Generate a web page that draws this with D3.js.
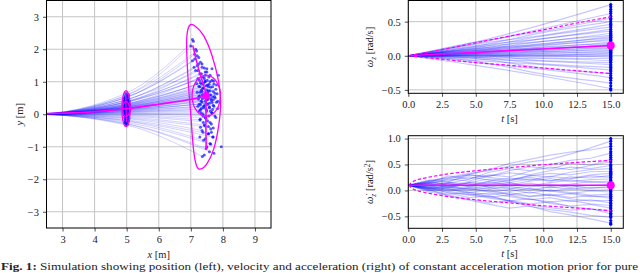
<!DOCTYPE html>
<html>
<head>
<meta charset="utf-8">
<script src="https://cdn.jsdelivr.net/npm/d3@7"></script>
<style>
body { margin: 0; background: #fff; }
text { font-family: "Liberation Serif", "DejaVu Serif", serif; fill: #222; }
</style>
</head>
<body>
<div id="chart"></div>
<script>
// ---- data ----
var xTicksL = [3, 4, 5, 6, 7, 8, 9];
var yTicksL = [-3, -2, -1, 0, 1, 2, 3];
var tTicks = [0, 2.5, 5, 7.5, 10, 12.5, 15];
var omegaTicks = [-0.5, 0, 0.5];
var alphaTicks = [-0.5, 0, 0.5, 1.0];

// position trajectories: [x at t1, y at t1, x end, y end]
var posTraj = [
  [4.97, 0.64, 7.08, 2.25], [5.02, 0.60, 7.00, 2.10], [4.95, 0.56, 7.18, 1.95], [5.05, 0.55, 7.12, 1.85],
  [4.99, 0.52, 7.25, 1.75], [4.92, 0.49, 7.05, 1.65], [5.06, 0.47, 7.35, 1.55], [5.01, 0.45, 7.20, 1.50],
  [4.94, 0.43, 7.42, 1.42], [5.08, 0.41, 7.15, 1.35], [4.98, 0.39, 7.50, 1.30], [5.03, 0.38, 7.28, 1.25],
  [4.91, 0.36, 7.60, 1.20], [4.96, 0.35, 7.38, 1.15], [5.07, 0.33, 7.22, 1.10], [5.00, 0.32, 7.66, 1.05],
  [4.93, 0.31, 7.45, 1.00], [5.04, 0.30, 7.30, 0.97], [4.97, 0.29, 7.72, 0.93], [5.09, 0.28, 7.52, 0.90],
  [4.95, 0.27, 7.25, 0.86], [5.02, 0.26, 7.62, 0.83], [4.90, 0.25, 7.40, 0.80], [5.05, 0.24, 7.78, 0.77],
  [4.99, 0.24, 7.33, 0.74], [4.94, 0.23, 7.55, 0.72], [5.06, 0.22, 7.70, 0.70], [5.01, 0.22, 7.20, 0.68],
  [4.96, 0.21, 7.47, 0.65], [5.03, 0.20, 7.82, 0.63], [4.92, 0.20, 7.36, 0.60], [5.08, 0.19, 7.58, 0.58],
  [4.98, 0.19, 7.28, 0.56], [5.00, 0.18, 7.68, 0.54], [4.95, 0.17, 7.44, 0.52], [5.04, 0.17, 7.76, 0.50],
  [4.97, 0.16, 7.24, 0.47], [5.07, 0.15, 7.52, 0.45], [4.93, 0.14, 7.64, 0.42], [5.02, 0.14, 7.32, 0.40],
  [4.99, 0.13, 7.80, 0.37], [4.94, 0.12, 7.48, 0.34], [5.05, 0.11, 7.26, 0.31], [5.01, 0.10, 7.70, 0.28],
  [4.96, 0.09, 7.40, 0.25], [5.08, 0.08, 7.58, 0.22], [4.91, 0.07, 7.84, 0.18], [5.03, 0.06, 7.30, 0.14],
  [4.98, 0.05, 7.50, 0.10], [4.95, 0.03, 7.66, 0.05], [5.06, 0.02, 7.38, 0.00], [5.00, 0.00, 7.75, -0.05],
  [4.93, -0.02, 7.45, -0.10], [5.04, -0.04, 7.28, -0.17], [4.97, -0.06, 7.60, -0.25], [5.02, -0.09, 7.42, -0.33],
  [4.94, -0.11, 7.70, -0.42], [5.07, -0.14, 7.35, -0.50], [4.99, -0.17, 7.55, -0.60], [4.95, -0.19, 7.68, -0.70],
  [5.05, -0.22, 7.40, -0.80], [5.00, -0.25, 7.62, -0.92], [4.96, -0.28, 7.48, -1.05], [5.03, -0.31, 7.72, -1.20],
  [4.98, -0.33, 7.36, -1.30]
];
var extraMid = [[4.95, 0.35], [5.05, 0.10], [4.92, 0.00], [5.08, 0.30], [4.98, -0.15], [5.02, 0.45], [4.96, 0.22],
  [5.04, -0.05], [4.90, 0.15], [5.10, 0.20], [5.00, 0.55], [4.94, -0.25], [5.06, 0.60], [5.01, 0.28], [4.97, 0.08],
  [4.93, 0.42], [5.07, 0.38], [4.99, -0.08], [5.03, 0.02], [4.95, 0.50], [5.05, -0.18], [4.91, 0.26], [5.09, 0.12]];
var extraEnd = [
  [7.40, 0.95], [7.55, 0.85], [7.35, 0.70], [7.62, 0.60], [7.45, 0.40], [7.30, 0.30], [7.58, 0.20], [7.70, 0.45], [7.25, 0.55], [7.50, 0.75],
  [7.42, 1.10], [7.60, 1.00], [7.33, 1.25], [7.48, 0.15], [7.65, 0.05], [7.38, -0.05], [7.52, -0.20], [7.44, -0.35], [7.62, -0.45], [7.30, -0.15],
  [7.75, 0.65], [7.28, 0.85], [7.68, 0.85], [7.46, 0.62], [7.54, 0.50], [7.36, 0.48], [7.58, 0.34], [7.40, 0.20], [7.72, 0.25], [7.26, 0.10],
  [7.50, 1.40], [7.30, 1.60], [7.20, 1.80], [7.15, 2.00], [7.05, 2.30], [7.35, 1.45], [7.22, 1.35], [7.45, 1.20], [7.56, 1.15], [7.12, 1.70],
  [7.55, -0.60], [7.45, -0.75], [7.60, -0.90], [7.38, -0.55], [7.70, -0.70], [7.50, -1.00], [7.42, -1.25], [7.58, -1.15], [7.95, -1.00], [7.30, -0.40],
  [7.80, 0.90], [7.84, 0.40], [7.78, -0.10], [7.18, 0.95], [7.22, 0.25], [7.86, 1.20], [7.66, 1.40], [7.10, 1.45], [7.28, -0.70], [7.64, -0.30],
  [7.48, 0.88], [7.52, 0.30], [7.40, 0.58], [7.60, 0.72], [7.34, 0.92], [7.56, -0.05], [7.44, 1.02], [7.68, 0.15], [7.32, 0.05], [7.62, 0.48],
  [7.37, 0.80], [7.53, 0.66], [7.43, 0.28], [7.66, 0.36], [7.29, 0.68], [7.57, 0.92], [7.47, -0.12], [7.35, 0.38], [7.74, 0.55], [7.51, 1.05],
  [7.39, -0.25], [7.61, 0.10], [7.27, 1.05], [7.49, 0.46], [7.71, 1.02], [7.33, 0.18], [7.55, -0.38], [7.45, 1.30], [7.24, 1.55], [7.64, -0.55]
];
var meanPos = [[0, 0], [2.5, 0.02], [3.5, 0.05], [4, 0.08], [4.98, 0.17], [6, 0.31], [7, 0.46], [7.48, 0.57]];
var midEllipseOuter = [4.98, 0.17, 0.13, 0.55];   // cx, cy, rx, ry
var midEllipseInner = [4.98, 0.16, 0.11, 0.23];
var midAxis = [[4.97, 0.62], [4.98, 0.17], [4.99, -0.22]];
var endEllipse = [7.48, 0.57, 0.44, 0.63];
var endContour = [[6.98, 2.75], [7.14, 2.71], [7.40, 2.42], [7.66, 1.81], [7.87, 0.99], [7.93, 0.38], [7.87, -0.34],
  [7.72, -1.05], [7.51, -1.51], [7.29, -1.69], [7.17, -1.56], [7.08, -1.05], [7.00, -0.03], [6.92, 0.99],
  [6.87, 2.02], [6.89, 2.52]];
var endAxis = [[7.06, 2.12], [7.24, 1.40], [7.40, 0.89], [7.47, 0.57], [7.47, -0.34], [7.48, -1.08]];

// angular velocity: values at t = 0, 5, 10, 15
var omegaTimes = [0, 5, 10, 15];
var omegaTraj = [
  [0.20, 0.46, 0.75], [0.18, 0.40, 0.62], [0.20, 0.36, 0.55], [0.14, 0.34, 0.50], [0.17, 0.30, 0.46],
  [0.12, 0.29, 0.42], [0.15, 0.25, 0.39], [0.10, 0.25, 0.36], [0.13, 0.21, 0.33], [0.08, 0.21, 0.30],
  [0.11, 0.17, 0.28], [0.07, 0.18, 0.26], [0.10, 0.15, 0.24], [0.06, 0.16, 0.22], [0.09, 0.12, 0.20],
  [0.04, 0.13, 0.18], [0.08, 0.10, 0.17], [0.05, 0.11, 0.15], [0.03, 0.10, 0.14], [0.07, 0.08, 0.13],
  [0.02, 0.08, 0.11], [0.05, 0.06, 0.10], [0.01, 0.06, 0.08], [0.04, 0.04, 0.07], [0.00, 0.04, 0.05],
  [0.03, 0.01, 0.04], [-0.01, 0.02, 0.02], [0.02, -0.01, 0.00], [-0.02, 0.00, -0.02], [0.01, -0.03, -0.04],
  [-0.03, -0.04, -0.07], [0.00, -0.07, -0.10], [-0.05, -0.08, -0.13], [-0.02, -0.12, -0.17], [-0.07, -0.13, -0.21],
  [-0.04, -0.18, -0.26], [-0.10, -0.20, -0.32], [-0.08, -0.27, -0.40], [-0.14, -0.30, -0.48]
];
var omegaEnd = [0.72, 0.68, 0.65, 0.58, 0.47, 0.35, 0.27, 0.19, 0.12, 0.06, -0.05, -0.15, -0.23, -0.29, -0.36, -0.44, -0.50,
  0.53, 0.44, 0.31, 0.23, 0.16, 0.09, 0.03, -0.01, -0.09, -0.19, -0.33];
var omegaBandT = [0, 2.5, 5, 7.5, 10, 12.5, 15];
var omegaMean = [0, 0.025, 0.05, 0.075, 0.10, 0.125, 0.15];
var omegaUpper = [0, 0.09, 0.19, 0.29, 0.38, 0.48, 0.57];
var omegaLower = [0, -0.05, -0.10, -0.14, -0.18, -0.22, -0.26];

// angular acceleration: start 0.1, then values at t = 1.5 ... 15
var alphaTimes = [0, 1.5, 3, 4.5, 6, 7.5, 9, 10.5, 12, 13.5, 15];
var alphaStart = 0.1;
var alphaTraj = [
  [0.18, 0.25, 0.33, 0.38, 0.47, 0.55, 0.60, 0.70, 0.82, 0.95],
  [0.15, 0.28, 0.22, 0.35, 0.42, 0.38, 0.50, 0.58, 0.62, 0.72],
  [0.20, 0.17, 0.30, 0.27, 0.38, 0.46, 0.41, 0.52, 0.49, 0.60],
  [0.05, 0.14, 0.22, 0.30, 0.26, 0.37, 0.45, 0.40, 0.48, 0.55],
  [0.16, 0.22, 0.18, 0.28, 0.34, 0.30, 0.38, 0.45, 0.42, 0.48],
  [0.12, 0.05, 0.15, 0.22, 0.18, 0.29, 0.26, 0.35, 0.40, 0.42],
  [0.19, 0.24, 0.30, 0.25, 0.21, 0.28, 0.33, 0.30, 0.36, 0.37],
  [0.07, 0.13, 0.09, 0.18, 0.24, 0.20, 0.27, 0.23, 0.30, 0.33],
  [0.14, 0.19, 0.26, 0.20, 0.15, 0.22, 0.18, 0.26, 0.24, 0.29],
  [0.03, 0.10, 0.16, 0.12, 0.20, 0.25, 0.19, 0.22, 0.28, 0.25],
  [0.17, 0.12, 0.08, 0.15, 0.11, 0.18, 0.23, 0.17, 0.21, 0.22],
  [0.09, 0.16, 0.12, 0.06, 0.13, 0.09, 0.15, 0.20, 0.16, 0.18],
  [0.13, 0.06, 0.11, 0.17, 0.10, 0.14, 0.08, 0.12, 0.17, 0.14],
  [0.04, 0.08, 0.02, 0.09, 0.15, 0.07, 0.12, 0.06, 0.10, 0.11],
  [0.16, 0.10, 0.14, 0.07, 0.03, 0.10, 0.05, 0.09, 0.04, 0.08],
  [0.08, 0.01, 0.06, 0.12, 0.05, 0.00, 0.07, 0.02, 0.06, 0.05],
  [0.11, 0.15, 0.07, 0.02, 0.08, 0.03, -0.02, 0.04, 0.00, 0.01],
  [0.02, 0.07, 0.00, 0.05, -0.02, 0.04, -0.01, -0.06, -0.01, -0.03],
  [0.14, 0.08, 0.03, -0.03, 0.02, -0.05, 0.01, -0.04, -0.09, -0.07],
  [0.06, -0.01, 0.04, -0.02, -0.08, -0.03, -0.10, -0.06, -0.12, -0.11],
  [0.01, 0.05, -0.03, -0.08, -0.04, -0.11, -0.07, -0.14, -0.10, -0.15],
  [0.10, 0.02, -0.04, 0.01, -0.07, -0.12, -0.09, -0.16, -0.20, -0.19],
  [0.04, -0.04, -0.09, -0.05, -0.12, -0.18, -0.14, -0.21, -0.18, -0.24],
  [-0.01, 0.03, -0.06, -0.13, -0.09, -0.17, -0.22, -0.19, -0.26, -0.29],
  [0.07, -0.02, -0.08, -0.15, -0.20, -0.16, -0.25, -0.30, -0.27, -0.34],
  [0.00, -0.07, -0.04, -0.12, -0.19, -0.26, -0.22, -0.31, -0.36, -0.40],
  [0.05, -0.05, -0.14, -0.10, -0.21, -0.28, -0.33, -0.38, -0.35, -0.45],
  [-0.03, -0.09, -0.17, -0.24, -0.20, -0.31, -0.37, -0.42, -0.48, -0.52],
  [0.02, -0.11, -0.19, -0.27, -0.34, -0.30, -0.41, -0.47, -0.55, -0.63],
  [0.12, 0.22, 0.31, 0.40, 0.52, 0.60, 0.68, 0.74, 0.78, 0.85]
];
var alphaEnd = [1.0, 0.9, 0.8, 0.68, 0.64, 0.5, 0.45, 0.35, 0.26, 0.19, 0.12, 0.06, -0.02, -0.08, -0.2, -0.3, -0.38, -0.44, -0.5, -0.58, -0.65,
  0.75, 0.57, 0.40, 0.31, 0.16, 0.02, -0.12, -0.25, -0.34, -0.47];
var alphaBandT = [0, 0.5, 1, 2.5, 5, 7.5, 10, 12.5, 15];
var alphaMean = [0.1, 0.1, 0.1, 0.1, 0.1, 0.1, 0.1, 0.1, 0.1];
var alphaUpper = [0.1, 0.19, 0.225, 0.30, 0.38, 0.44, 0.495, 0.54, 0.58];
var alphaLower = [0.1, 0.01, -0.025, -0.10, -0.18, -0.24, -0.295, -0.34, -0.39];

// ---- drawing ----
var svgWidth = 640;
var svgHeight = 273;
var blue = "#0000ff";
var magenta = "#ff00ff";

var svg = d3.select("#chart")
  .append("svg")
  .attr("width", svgWidth)
  .attr("height", svgHeight);

svg.append("rect").attr("width", svgWidth).attr("height", svgHeight).attr("fill", "#fff");

// axes frame with grid, returns clipped group for the marks
function makePanel(id, x, y, xTicks, yTicks, fmtX, fmtY) {
  var g = svg.append("g");
  var xr = x.range(), yr = y.range();

  g.append("clipPath").attr("id", id)
    .append("rect")
    .attr("x", xr[0]).attr("y", yr[1])
    .attr("width", xr[1] - xr[0]).attr("height", yr[0] - yr[1]);

  g.append("g").selectAll("line").data(xTicks).enter().append("line")
    .attr("x1", d => x(d)).attr("x2", d => x(d))
    .attr("y1", yr[0]).attr("y2", yr[1])
    .attr("stroke", "#c4c4c4").attr("stroke-width", 1);
  g.append("g").selectAll("line").data(yTicks).enter().append("line")
    .attr("x1", xr[0]).attr("x2", xr[1])
    .attr("y1", d => y(d)).attr("y2", d => y(d))
    .attr("stroke", "#c4c4c4").attr("stroke-width", 1);

  var marks = g.append("g").attr("clip-path", "url(#" + id + ")");

  var xAxis = g.append("g")
    .attr("transform", `translate(0, ${yr[0]})`)
    .call(d3.axisBottom(x).tickValues(xTicks).tickFormat(fmtX).tickSize(3.5).tickPadding(4).tickSizeOuter(0));
  var yAxis = g.append("g")
    .attr("transform", `translate(${xr[0]}, 0)`)
    .call(d3.axisLeft(y).tickValues(yTicks).tickFormat(fmtY).tickSize(3.5).tickPadding(4).tickSizeOuter(0));
  [xAxis, yAxis].forEach(function (a) {
    a.attr("font-family", null);
    a.select(".domain").remove();
    a.selectAll("text").style("font-size", "10.5px").attr("fill", "#222");
    a.selectAll("line").attr("stroke", "#222").attr("stroke-width", 0.8);
  });

  g.append("rect")
    .attr("x", xr[0]).attr("y", yr[1])
    .attr("width", xr[1] - xr[0]).attr("height", yr[0] - yr[1])
    .attr("fill", "none").attr("stroke", "#000").attr("stroke-width", 1);

  return { g: g, marks: marks };
}

function ellipsePts(e) {
  return d3.range(0, 361, 6).map(a => [e[0] + e[2] * Math.cos(a * Math.PI / 180), e[1] + e[3] * Math.sin(a * Math.PI / 180)]);
}

// ----- left: position -----
var xL = d3.scaleLinear().domain([2.5, 9.5]).range([46.5, 271]);
var yL = d3.scaleLinear().domain([-3.5, 3.5]).range([228, 0.5]);
var pL = makePanel("clipL", xL, yL, xTicksL, yTicksL, d3.format("d"), d3.format("d"));

var lineL = d3.line().x(d => xL(d[0])).y(d => yL(d[1]));
var curveL = d3.line().x(d => xL(d[0])).y(d => yL(d[1])).curve(d3.curveMonotoneX);

pL.marks.append("g").selectAll("path")
  .data(posTraj).enter().append("path")
  .attr("d", d => curveL([[0, 0], [2, 0], [d[0], d[1]], [d[2], d[3]]]))
  .attr("fill", "none").attr("stroke", blue)
  .attr("stroke-width", 0.9).attr("stroke-opacity", 0.2);

var midPts = posTraj.map(d => [d[0], d[1]]).concat(extraMid);
var endPts = posTraj.map(d => [d[2], d[3]]).concat(extraEnd);
pL.marks.append("g").selectAll("circle")
  .data(midPts.concat(endPts)).enter().append("circle")
  .attr("cx", d => xL(d[0])).attr("cy", d => yL(d[1]))
  .attr("r", 1.5).attr("fill", blue).attr("fill-opacity", 0.65);

var magentaL = pL.marks.append("g").attr("fill", "none").attr("stroke", magenta).attr("stroke-width", 1.3);
magentaL.append("path").attr("d", curveL(meanPos)).attr("stroke-width", 1.6);
magentaL.append("path").attr("d", lineL(ellipsePts(midEllipseOuter)));
magentaL.append("path").attr("d", lineL(ellipsePts(midEllipseInner)));
magentaL.append("path").attr("d", lineL(midAxis));
magentaL.append("path").attr("d", lineL(ellipsePts(endEllipse)));
magentaL.append("path").attr("d", d3.line().x(d => xL(d[0])).y(d => yL(d[1])).curve(d3.curveCardinalClosed)(endContour));
magentaL.append("path").attr("d", d3.line().x(d => xL(d[0])).y(d => yL(d[1])).curve(d3.curveCardinal)(endAxis)).attr("stroke-width", 1.6);
pL.marks.append("circle")
  .attr("cx", xL(endEllipse[0])).attr("cy", yL(endEllipse[1]))
  .attr("r", 3.8).attr("fill", magenta);

svg.append("text").attr("x", xL(6)).attr("y", 258).attr("text-anchor", "middle").style("font-size", "10.5px")
  .html('<tspan font-style="italic">x</tspan> [m]');
svg.append("text").attr("transform", `translate(23, ${yL(0)}) rotate(-90)`).attr("text-anchor", "middle").style("font-size", "10.5px")
  .html('<tspan font-style="italic">y</tspan> [m]');

// ----- right top: angular velocity -----
var tScaleTop = d3.scaleLinear().domain([0, 15.93]).range([408.3, 623.3]);
var yW = d3.scaleLinear().domain([-0.55, 0.81]).range([93.3, 0.5]);
var pW = makePanel("clipW", tScaleTop, yW, tTicks, omegaTicks, d3.format(".1f"), d3.format(".1f"));

var lineW = d3.line().x(d => tScaleTop(d[0])).y(d => yW(d[1])).curve(d3.curveMonotoneX);
pW.marks.append("g").selectAll("path")
  .data(omegaTraj).enter().append("path")
  .attr("d", d => lineW(omegaTimes.map((t, i) => [t, i === 0 ? 0 : d[i - 1]])))
  .attr("fill", "none").attr("stroke", blue).attr("stroke-width", 1.2).attr("stroke-opacity", 0.22);
pW.marks.append("g").selectAll("circle")
  .data(omegaTraj.map(d => d[2]).concat(omegaEnd)).enter().append("circle")
  .attr("cx", tScaleTop(15)).attr("cy", d => yW(d))
  .attr("r", 1.6).attr("fill", blue);
var bandW = pW.marks.append("g").attr("fill", "none").attr("stroke", magenta);
bandW.append("path").attr("d", lineW(omegaBandT.map((t, i) => [t, omegaUpper[i]]))).attr("stroke-width", 1.2).attr("stroke-dasharray", "3.5,2");
bandW.append("path").attr("d", lineW(omegaBandT.map((t, i) => [t, omegaLower[i]]))).attr("stroke-width", 1.2).attr("stroke-dasharray", "3.5,2");
bandW.append("path").attr("d", lineW(omegaBandT.map((t, i) => [t, omegaMean[i]]))).attr("stroke-width", 1.6);
pW.marks.append("circle").attr("cx", tScaleTop(15)).attr("cy", yW(omegaMean[omegaMean.length - 1]))
  .attr("r", 4).attr("fill", magenta);

svg.append("text").attr("x", tScaleTop(7.5)).attr("y", 122).attr("text-anchor", "middle").style("font-size", "10.5px")
  .html('<tspan font-style="italic">t</tspan> [s]');
svg.append("text").attr("transform", `translate(373, 47) rotate(-90)`).attr("text-anchor", "middle").style("font-size", "10.5px")
  .html('<tspan font-style="italic">ω</tspan><tspan dy="2.5" font-size="7.5px" font-style="italic">z</tspan><tspan dy="-2.5"> [rad/s]</tspan>');

// ----- right bottom: angular acceleration -----
var tScaleBot = d3.scaleLinear().domain([0, 15.93]).range([408.3, 623.3]);
var yA = d3.scaleLinear().domain([-0.73, 1.055]).range([228.3, 135.7]);
var pA = makePanel("clipA", tScaleBot, yA, tTicks, alphaTicks, d3.format(".1f"), d3.format(".1f"));

var lineA = d3.line().x(d => tScaleBot(d[0])).y(d => yA(d[1]));
var smoothA = d3.line().x(d => tScaleBot(d[0])).y(d => yA(d[1])).curve(d3.curveMonotoneX);
pA.marks.append("g").selectAll("path")
  .data(alphaTraj).enter().append("path")
  .attr("d", d => lineA(alphaTimes.map((t, i) => [t, i === 0 ? alphaStart : d[i - 1]])))
  .attr("fill", "none").attr("stroke", blue).attr("stroke-width", 1.2).attr("stroke-opacity", 0.22);
pA.marks.append("g").selectAll("circle")
  .data(alphaTraj.map(d => d[d.length - 1]).concat(alphaEnd)).enter().append("circle")
  .attr("cx", tScaleBot(15)).attr("cy", d => yA(d))
  .attr("r", 1.6).attr("fill", blue);
var bandA = pA.marks.append("g").attr("fill", "none").attr("stroke", magenta);
bandA.append("path").attr("d", smoothA(alphaBandT.map((t, i) => [t, alphaUpper[i]]))).attr("stroke-width", 1.2).attr("stroke-dasharray", "3.5,2");
bandA.append("path").attr("d", smoothA(alphaBandT.map((t, i) => [t, alphaLower[i]]))).attr("stroke-width", 1.2).attr("stroke-dasharray", "3.5,2");
bandA.append("path").attr("d", lineA(alphaBandT.map((t, i) => [t, alphaMean[i]]))).attr("stroke-width", 1.6);
pA.marks.append("circle").attr("cx", tScaleBot(15)).attr("cy", yA(alphaMean[alphaMean.length - 1]))
  .attr("r", 4).attr("fill", magenta);

svg.append("text").attr("x", tScaleBot(7.5)).attr("y", 257).attr("text-anchor", "middle").style("font-size", "10.5px")
  .html('<tspan font-style="italic">t</tspan> [s]');
svg.append("text").attr("transform", `translate(373, 182) rotate(-90)`).attr("text-anchor", "middle").style("font-size", "10.5px")
  .html('<tspan font-style="italic">ω\u0307</tspan><tspan dy="2.5" font-size="7.5px" font-style="italic">z</tspan><tspan dy="-2.5"> [rad/s</tspan><tspan dy="-3.5" font-size="7.5px">2</tspan><tspan dy="3.5">]</tspan>');

// ----- caption -----
svg.append("text").attr("x", 1).attr("y", 270).style("font-size", "11px")
  .attr("textLength", 637).attr("lengthAdjust", "spacingAndGlyphs")
  .html('<tspan font-weight="bold">Fig. 1:</tspan> Simulation showing position (left), velocity and acceleration (right) of constant acceleration motion prior for pure');
</script>
</body>
</html>
